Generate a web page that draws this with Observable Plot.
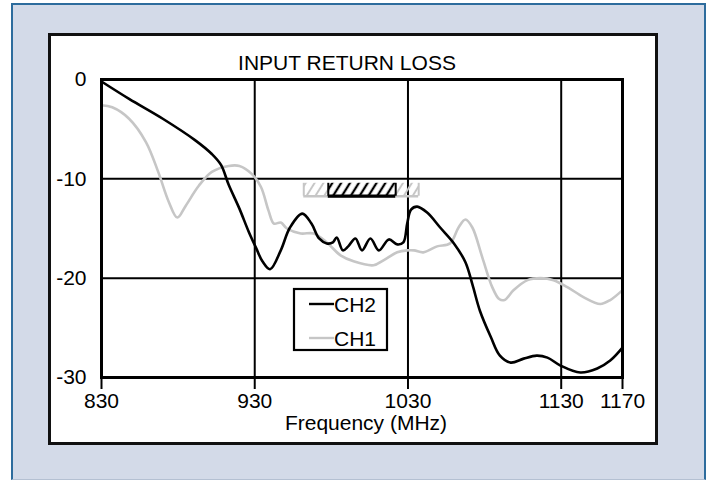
<!DOCTYPE html>
<html>
<head>
<meta charset="utf-8">
<script src="https://cdn.jsdelivr.net/npm/d3@7"></script>
<script src="https://cdn.jsdelivr.net/npm/@observablehq/plot@0.6"></script>
<style>
  html, body { margin: 0; padding: 0; background: #ffffff; }
  #page { position: relative; width: 709px; height: 480px; overflow: hidden; font-family: "Liberation Sans", Arial, sans-serif; }
  #outer { position: absolute; left: 11px; top: 3px; width: 695px; height: 477px; box-sizing: border-box;
           border: 2px solid #2d6c9d; border-bottom: 1px solid #b4c0d2; background: #d3dae8; }
  #panel { position: absolute; left: 48px; top: 33px; width: 610px; height: 412px; box-sizing: border-box;
           border: 3px solid #111111; background: #ffffff; }
  #chart { position: absolute; left: 0; top: 0; }
</style>
</head>
<body>
<div id="page">
  <div id="outer"></div>
  <div id="panel"></div>
  <div id="chart"></div>
</div>
<script>
// ---- data ----
const ch2Freq = [830, 848, 870, 891, 902, 908, 913, 920, 926, 931, 935, 940, 947, 953, 961, 967, 972, 977, 981, 983.5, 987.5, 991, 995.7, 1000, 1005.5, 1011, 1017.5, 1023, 1027, 1029.5, 1032, 1036, 1042.5, 1051, 1060, 1067.5, 1072, 1077, 1084, 1090, 1097, 1105.5, 1114, 1121, 1129.5, 1142.5, 1153.5, 1162, 1170];
const ch2Db = [-0.2, -1.95, -3.95, -6.1, -7.5, -8.6, -10.6, -13.0, -15.3, -17.0, -18.3, -19.1, -17.2, -14.9, -13.5, -14.5, -16.0, -16.5, -16.4, -15.9, -17.2, -16.8, -16.0, -17.2, -16.0, -17.2, -16.1, -16.6, -16.4, -14.5, -13.1, -12.8, -13.4, -14.9, -16.5, -18.4, -20.6, -23.3, -25.9, -27.8, -28.5, -28.1, -27.8, -28.0, -28.8, -29.5, -29.1, -28.3, -27.0];

const ch1Freq = [830, 837, 848, 859, 867, 874, 879.5, 885, 893.5, 902, 913, 920, 928, 934, 939, 942.5, 947, 951, 960, 968.5, 977, 986, 994.5, 1007.5, 1014, 1023, 1029.5, 1034, 1040, 1049, 1057.5, 1063, 1067.5, 1072, 1078.5, 1085, 1089.5, 1093, 1099, 1108, 1116.5, 1125, 1134, 1144.5, 1155.5, 1162, 1170];
const ch1Db = [-2.6, -2.8, -3.95, -6.3, -9.3, -12.35, -13.9, -12.7, -10.7, -9.3, -8.7, -8.7, -9.5, -10.8, -13.2, -14.5, -14.4, -15.0, -15.5, -15.5, -16.4, -17.7, -18.3, -18.7, -18.2, -17.4, -17.2, -17.2, -17.4, -16.8, -16.5, -14.9, -14.1, -14.9, -17.9, -20.9, -22.1, -22.2, -21.2, -20.2, -20.0, -20.2, -20.9, -21.9, -22.6, -22.2, -21.2];

const xTicks = [830, 930, 1030, 1130, 1170];
const xGrid = [930, 1030, 1130];
const yTicks = [0, -10, -20, -30];
const yGrid = [-10, -20];

// return-loss spec band (hatched): outer (CH1, gray) and inner (CH2, black)
const specNames = ["CH1", "CH2"];
const specFrom = [962, 978];
const specTo = [1037, 1022];
const specTop = -10.45;
const specLimit = -11.75;

const seriesNames = ["CH2", "CH1"];
const titleText = "INPUT RETURN LOSS";
const xLabel = "Frequency (MHz)";

// ---- build tables ----
const ch2 = ch2Freq.map((f, i) => ({f, db: ch2Db[i]}));
const ch1 = ch1Freq.map((f, i) => ({f, db: ch1Db[i]}));
const spec = specNames.map((name, i) => ({name, x1: specFrom[i], x2: specTo[i], top: specTop, bottom: specLimit}));
const specGray = spec.filter(d => d.name === "CH1");
const specBlack = spec.filter(d => d.name === "CH2");

const GRAY = "#c6c6c6";
const BLACK = "#000000";
const FS = 21;

const chart = Plot.plot({
  width: 709,
  height: 480,
  marginLeft: 101,
  marginRight: 87,
  marginTop: 79,
  marginBottom: 103,
  style: {background: "transparent", overflow: "visible", fontFamily: "'Liberation Sans', Arial, sans-serif", fontSize: FS + "px", color: "#000"},
  x: {domain: [830, 1170], label: null},
  y: {domain: [-30, 0], label: null},
  marks: [
    Plot.ruleX(xGrid, {stroke: BLACK, strokeWidth: 2}),
    Plot.ruleY(yGrid, {stroke: BLACK, strokeWidth: 2}),
    // gray spec band
    Plot.rect(specGray, {x1: "x1", x2: "x2", y1: "bottom", y2: "top", fill: "url(#hatchGray)"}),
    Plot.ruleY(specGray, {y: "bottom", x1: "x1", x2: "x2", stroke: GRAY, strokeWidth: 2.5}),
    Plot.ruleX(specGray, {x: "x1", y1: "bottom", y2: "top", stroke: GRAY, strokeWidth: 2}),
    Plot.ruleX(specGray, {x: "x2", y1: "bottom", y2: "top", stroke: GRAY, strokeWidth: 2}),
    // black spec band
    Plot.rect(specBlack, {x1: "x1", x2: "x2", y1: "bottom", y2: "top", fill: "#ffffff"}),
    Plot.rect(specBlack, {x1: "x1", x2: "x2", y1: "bottom", y2: "top", fill: "url(#hatchBlack)"}),
    Plot.ruleY(specBlack, {y: "bottom", x1: "x1", x2: "x2", stroke: BLACK, strokeWidth: 3.2}),
    Plot.ruleX(specBlack, {x: "x1", y1: "bottom", y2: "top", stroke: BLACK, strokeWidth: 2}),
    Plot.ruleX(specBlack, {x: "x2", y1: "bottom", y2: "top", stroke: BLACK, strokeWidth: 2}),
    // curves
    Plot.line(ch1, {x: "f", y: "db", stroke: GRAY, strokeWidth: 2.6, curve: "catmull-rom"}),
    Plot.line(ch2, {x: "f", y: "db", stroke: BLACK, strokeWidth: 2.6, curve: "catmull-rom"}),
    Plot.frame({stroke: BLACK, strokeWidth: 3}),
    Plot.axisX({ticks: xTicks, tickSize: 12, tickPadding: 4, strokeWidth: 2, tickFormat: d => String(d), label: null, fontSize: FS}),
    Plot.axisY({ticks: yTicks, tickSize: 0, tickPadding: 15, tickFormat: d => String(d), label: null, fontSize: FS})
  ]
});

// hatch patterns
const svg = d3.select(chart);
const defs = svg.insert("defs", ":first-child");
function hatch(id, color, w) {
  const p = defs.append("pattern")
    .attr("id", id)
    .attr("patternUnits", "userSpaceOnUse")
    .attr("width", 7.5)
    .attr("height", 10)
    .attr("patternTransform", "rotate(32)");
  p.append("line").attr("x1", 3.75).attr("x2", 3.75).attr("y1", 0).attr("y2", 10)
    .attr("stroke", color).attr("stroke-width", w);
}
hatch("hatchGray", GRAY, 2);
hatch("hatchBlack", BLACK, 2.3);

// title and axis label
const font = "'Liberation Sans', Arial, sans-serif";
svg.append("text").attr("x", 347).attr("y", 70).attr("text-anchor", "middle")
  .attr("font-family", font).attr("font-size", FS).attr("fill", "#000").text(titleText);
svg.append("text").attr("x", 366).attr("y", 430).attr("text-anchor", "middle")
  .attr("font-family", font).attr("font-size", FS).attr("fill", "#000").text(xLabel);

// legend
const lg = svg.append("g").attr("font-family", font).attr("font-size", FS).attr("text-anchor", "start");
lg.append("rect").attr("x", 294).attr("y", 289).attr("width", 93).attr("height", 61)
  .attr("fill", "#fff").attr("stroke", "#000").attr("stroke-width", 2.2);
const legendColors = [BLACK, GRAY];
seriesNames.forEach((name, i) => {
  const yy = 304 + i * 34;
  lg.append("line").attr("x1", 309).attr("x2", 334).attr("y1", yy).attr("y2", yy)
    .attr("stroke", legendColors[i]).attr("stroke-width", 2.4);
  lg.append("text").attr("x", 334).attr("y", yy + 7.5).attr("text-anchor", "start").attr("fill", "#000").text(name);
});

document.getElementById("chart").appendChild(chart);
</script>
</body>
</html>
